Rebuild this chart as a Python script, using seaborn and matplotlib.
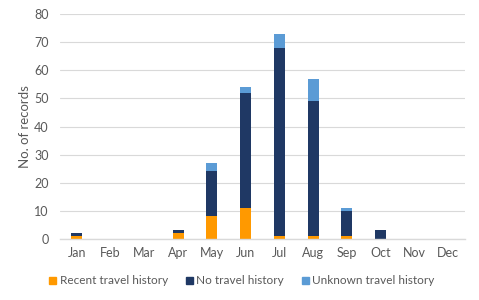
import matplotlib
matplotlib.use("Agg")
import matplotlib.pyplot as plt
import seaborn as sns
import pandas as pd
import numpy as np

months = ["Jan", "Feb", "Mar", "Apr", "May", "Jun", "Jul", "Aug", "Sep", "Oct", "Nov", "Dec"]
recent = [1, 0, 0, 2, 8, 11, 1, 1, 1, 0, 0, 0]
no_travel = [1, 0, 0, 1, 16, 41, 67, 48, 9, 3, 0, 0]
unknown = [0, 0, 0, 0, 3, 2, 5, 8, 1, 0, 0, 0]
series_names = ["Recent travel history", "No travel history", "Unknown travel history"]
colors = ["#FF9900", "#1F3864", "#5B9BD5"]

sns.set_theme(style="white")
plt.rcParams['font.family'] = ['Lato', 'DejaVu Sans']

fig = plt.figure(figsize=(4.79, 3.0), dpi=100)
ax = fig.add_axes([60/479, 1 - 238.7/300, (465-60)/479, (238.7-14.3)/300])

df = pd.DataFrame({"month": months, "recent": recent, "no": no_travel, "unk": unknown})
b1 = np.array(recent)
b2 = b1 + np.array(no_travel)

sns.barplot(data=df, x="month", y="recent", color=colors[0], width=0.33, ax=ax,
            saturation=1, linewidth=0)
sns.barplot(x=df["month"], y=df["no"], color=colors[1], width=0.33, ax=ax,
            saturation=1, bottom=b1, linewidth=0)
sns.barplot(x=df["month"], y=df["unk"], color=colors[2], width=0.33, ax=ax,
            saturation=1, bottom=b2, linewidth=0)
if ax.get_legend() is not None:
    ax.get_legend().remove()

ax.set_ylim(0, 80)
ax.set_yticks(range(0, 81, 10))
ax.set_xlim(-0.5, 11.5)
ax.yaxis.grid(True, color="#D9D9D9", linewidth=0.8)
ax.set_axisbelow(True)
for s in ["top", "right", "left"]:
    ax.spines[s].set_visible(False)
ax.spines["bottom"].set_color("#D9D9D9")
ax.spines["bottom"].set_linewidth(1.0)
ax.tick_params(axis="both", colors="#595959", labelsize=9, length=0, pad=6)
ax.tick_params(axis="y", pad=8)
ax.set_xlabel("")
ax.set_ylabel("No. of records", fontsize=9.5, color="#595959", labelpad=2)

handles = [plt.Rectangle((0, 0), 1, 1, color=c) for c in colors]
fig.legend(handles, series_names, loc="center", bbox_to_anchor=(0.505, 1 - 281/300), ncol=3,
           frameon=False, fontsize=8.5, labelcolor="#595959", handlelength=0.6, handleheight=0.6,
           handletextpad=0.3, columnspacing=1.5)

fig.savefig("out.png", dpi=100)
